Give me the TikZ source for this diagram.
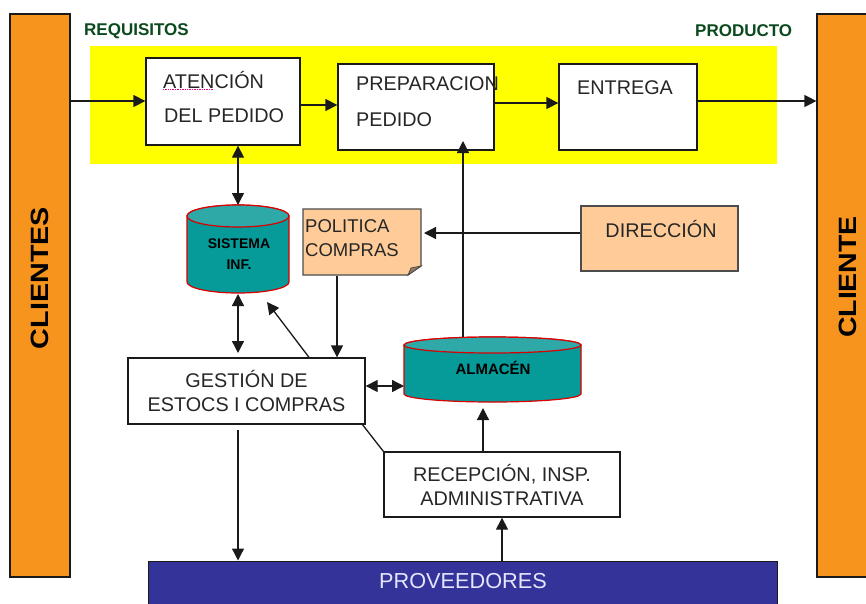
\documentclass[tikz,border=0pt]{standalone}
\usepackage{fontspec}
\setmainfont{Liberation Sans}
\usetikzlibrary{arrows.meta}
\definecolor{orangeb}{HTML}{F7941E}
\definecolor{tealc}{HTML}{069A98}
\definecolor{tealt}{HTML}{2FA9A8}
\definecolor{peach}{HTML}{FFCC99}
\definecolor{navy}{HTML}{333399}
\definecolor{dkgreen}{HTML}{0B4A1E}
\definecolor{linec}{HTML}{1A1A1A}
\definecolor{yell}{HTML}{FFFF00}
\tikzset{
 px/.style={x=1pt,y=-1pt},
 conn/.style={draw=linec,line width=1.3pt,-{Triangle[length=12pt,width=12pt]}},
 biconn/.style={draw=linec,line width=1.3pt,{Triangle[length=12pt,width=12pt]}-{Triangle[length=12pt,width=12pt]}},
 plain/.style={draw=linec,line width=1.3pt},
 whitebox/.style={draw=linec,line width=1.3pt,fill=white,inner sep=0pt,font=\fontsize{19.8}{24}\selectfont,text=black!85},
 sidebar/.style={draw=linec,line width=1.2pt,fill=orangeb,inner sep=0pt},
 sidetext/.style={font=\bfseries\fontsize{25}{28}\selectfont,rotate=90,text=black,inner sep=0pt},
 peachbox/.style={draw=black!70,line width=1.2pt,fill=peach,inner sep=0pt},
 cyl/.style={draw=red!85!black,line width=1.2pt,fill=tealc},
 cyltop/.style={draw=red!85!black,line width=1.2pt,fill=tealt},
 cyltext/.style={font=\bfseries\fontsize{14}{21}\selectfont,text=black,align=center,inner sep=0pt},
 head/.style={font=\bfseries\fontsize{17}{18}\selectfont,text=dkgreen,inner sep=0pt},
 boxtext/.style={anchor=west,font=\fontsize{19.8}{22}\selectfont,text=black!85,inner sep=0pt},
}
\begin{document}
\begin{tikzpicture}[px]
\useasboundingbox (0,0) rectangle (866,603);
\fill[white] (0,0) rectangle (866,603);
\fill[yell] (90,46) rectangle (777,164);
% side bars
\node[sidebar,minimum width=60pt,minimum height=563pt] (clientes) at (40,295.5) {};
\node[sidetext] (clientesT) at (40,278) {\scalebox{1.15}[1]{CLIENTES}};
\begin{scope}
\clip (0,0) rectangle (866,603);
\node[sidebar,minimum width=60pt,minimum height=563pt] (cliente) at (847,295.5) {};
\end{scope}
\node[sidetext] (clienteT) at (848,277) {\scalebox{1.14}[1]{CLIENTE}};
% headings
\node[head,anchor=west] (req) at (84,31) {REQUISITOS};
\node[head,anchor=west] (prod) at (695,31) {PRODUCTO};
% process boxes
\node[whitebox,minimum width=154pt,minimum height=87pt] (aten) at (223,101.5) {};
\node[boxtext] (t1) at (163,80) {ATENCIÓN};
\node[boxtext] (t2) at (164,116) {DEL PEDIDO};
\draw[magenta,densely dotted,line width=.7pt] (163,89) -- (214,89);
\node[whitebox,minimum width=156pt,minimum height=86pt] (prep) at (416,107) {};
\node[boxtext] (t3) at (356,84) {PREPARACION};
\node[boxtext] (t4) at (356,120) {PEDIDO};
\node[whitebox,minimum width=138pt,minimum height=86pt] (entr) at (628,107) {};
\node[boxtext] (t5) at (577,88) {ENTREGA};
% SISTEMA cylinder
\path[cyl] (187,216) -- (187,282) arc[start angle=180,end angle=360,x radius=51pt,y radius=11pt] -- (289,216) arc[start angle=0,end angle=180,x radius=51pt,y radius=11pt] -- cycle;
\path[cyltop] (238,216) ellipse[x radius=51pt,y radius=11pt];
\node[cyltext] (sist) at (239,254) {SISTEMA\\INF.};
\coordinate (sistT) at (238,205);
\coordinate (sistB) at (238,294);
\coordinate (gestT) at (238,353);
\coordinate (sistD) at (267,302);
\coordinate (gestB) at (238,430);
% ALMACEN cylinder
\path[cyl] (404,345) -- (404,394) arc[start angle=180,end angle=360,x radius=88.5pt,y radius=8pt] -- (581,345) arc[start angle=0,end angle=180,x radius=88.5pt,y radius=8pt] -- cycle;
\path[cyltop] (492.5,345) ellipse[x radius=88.5pt,y radius=8pt];
\node[cyltext,font=\bfseries\fontsize{15}{21}\selectfont] (alm) at (493,368) {ALMACÉN};
\coordinate (almL) at (404,386);
\coordinate (almT) at (463,337);
\coordinate (prepB) at (463,141);
\coordinate (almB) at (483,408);
% POLITICA note
\path[peachbox] (303,209) -- (421,209) -- (421,266) -- (408,275) -- (303,275) -- cycle;
\path[fill=peach!60!black,draw=black!70,line width=.8pt] (408,275) -- (411,268) -- (421,266) -- cycle;
\node[anchor=west,font=\fontsize{18.5}{24}\selectfont,text=black!85,align=left,inner sep=0pt] (pol) at (305,238) {POLITICA\\COMPRAS};
\coordinate (polB) at (337,276);
\coordinate (polR) at (424,233);
% DIRECCION
\node[peachbox,minimum width=157pt,minimum height=65pt] (dir) at (659.5,238.5) {};
\node[font=\fontsize{19.8}{22}\selectfont,text=black!85,inner sep=0pt] (dirt) at (661,229) {DIRECCIÓN};
% GESTION, RECEPCION
\node[whitebox,minimum width=237pt,minimum height=66pt,align=center] (gest) at (246.5,391) {GESTIÓN DE\\ESTOCS I COMPRAS};
\node[whitebox,minimum width=236pt,minimum height=65pt,align=center] (rece) at (502,484.5) {RECEPCIÓN, INSP.\\ADMINISTRATIVA};
% PROVEEDORES
\node[draw=linec,line width=1pt,fill=navy,minimum width=629pt,minimum height=44pt,inner sep=0pt] (prov) at (462.5,583) {};
\node[font=\fontsize{21.7}{24}\selectfont,text=white!90!blue,inner sep=0pt] (provt) at (463,581) {PROVEEDORES};
% connectors
\draw[conn] (clientes.east |- 0,101) -- (aten.west |- 0,101);
\draw[conn] (aten.east |- 0,105) -- (prep.west |- 0,105);
\draw[conn] (prep.east |- 0,103) -- (entr.west |- 0,103);
\draw[conn] (entr.east |- 0,101) -- (cliente.west |- 0,101);
\draw[biconn] (sistT |- aten.south) -- (sistT);
\draw[biconn] (sistB) -- (gestT);
\draw[conn] (gest.north -| 309,0) -- (sistD);
\draw[conn] (polB) -- (polB |- gest.north);
\draw[conn] (dir.west |- polR) -- (polR);
\draw[conn] (almT) -- (prepB);
\draw[biconn] (gest.east |- almL) -- (almL);
\draw[conn] (rece.north -| almB) -- (almB);
\draw[plain] (362,424) -- (rece.north west);
\draw[conn] (gestB) -- (gestB |- prov.north);
\draw[conn] (prov.north -| rece.south) -- (rece.south);
\end{tikzpicture}
\end{document}
